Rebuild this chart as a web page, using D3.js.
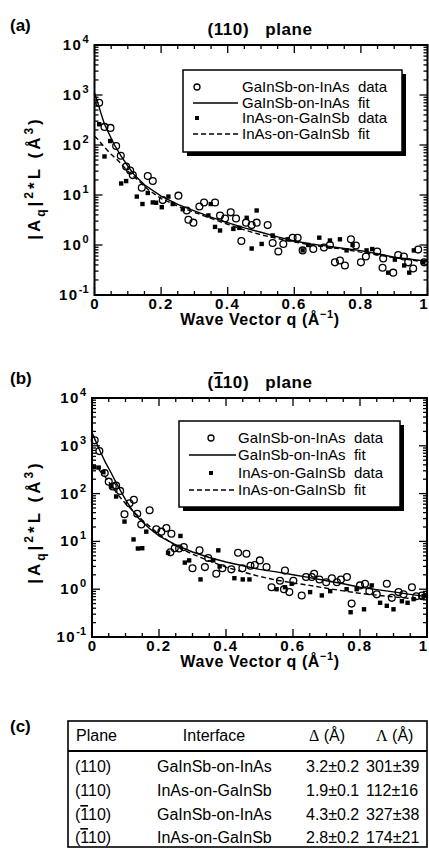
<!DOCTYPE html>
<html>
<head>
<meta charset="utf-8">
<script src="https://cdn.jsdelivr.net/npm/d3@7"></script>
<style>
  body { margin: 0; background: #fff; }
  svg { display: block; }
  text { font-family: "Liberation Sans", Arial, sans-serif; fill: #000; }
</style>
</head>
<body>
<div id="chart"></div>
<script>
// Data: [q (1/Å), |A_q|^2*L (Å^3)]
const aGaInSbData = [[0.014,700],[0.03,230],[0.048,220],[0.065,95],[0.079,61],[0.095,37],[0.107,31],[0.115,25],[0.142,14],[0.16,24],[0.175,19],[0.205,7.9],[0.252,9.7],[0.277,4.9],[0.282,3.2],[0.297,2.8],[0.315,5.9],[0.329,7.1],[0.362,7.1],[0.377,3.9],[0.392,3.4],[0.409,4.5],[0.425,3.4],[0.441,1.2],[0.455,2.8],[0.472,2.5],[0.487,2.8],[0.52,2.5],[0.535,1.1],[0.552,0.74],[0.567,1.05],[0.595,1.4],[0.61,1.4],[0.625,0.78],[0.657,0.83],[0.689,0.89],[0.707,1.0],[0.722,0.45],[0.737,0.49],[0.752,0.39],[0.77,1.3],[0.785,0.98],[0.8,0.45],[0.815,0.59],[0.849,0.74],[0.867,0.54],[0.865,0.35],[0.897,0.28],[0.912,0.63],[0.929,0.59],[0.942,0.45],[0.957,0.34],[0.972,0.81],[0.99,0.45]]
const aInAsData = [[0.014,260],[0.03,59],[0.047,120],[0.08,17],[0.095,19],[0.127,9.3],[0.144,6.6],[0.16,11],[0.175,7.1],[0.185,7],[0.202,5.7],[0.222,9.3],[0.235,6.6],[0.265,5.2],[0.342,3.9],[0.349,6.6],[0.362,2.3],[0.377,1.95],[0.417,2.1],[0.435,2.2],[0.457,3.5],[0.472,0.85],[0.487,4.9],[0.502,1.05],[0.535,1.55],[0.58,1.3],[0.625,0.78],[0.642,1.0],[0.675,1.4],[0.707,1.23],[0.737,1.3],[0.757,0.78],[0.775,1.0],[0.817,0.78],[0.834,0.83],[0.882,0.28],[0.902,0.51],[0.93,0.39],[0.945,0.28],[0.959,0.78],[0.987,0.45]]
const aGaInSbFit = [[0,1100],[0.01,700],[0.02,420],[0.03,260],[0.045,160],[0.06,100],[0.08,60],[0.1,38],[0.12,25],[0.15,16],[0.2,9.5],[0.25,6.5],[0.3,4.8],[0.35,3.6],[0.4,2.8],[0.45,2.2],[0.5,1.8],[0.55,1.45],[0.6,1.2],[0.65,1.05],[0.7,0.95],[0.75,0.85],[0.8,0.77],[0.85,0.67],[0.9,0.57],[0.95,0.52],[1,0.47]]
const aInAsFit = [[0,150],[0.01,130],[0.027,95],[0.05,65],[0.072,48],[0.1,30],[0.13,20],[0.16,13],[0.2,8.5],[0.25,6],[0.3,4.5],[0.35,3.4],[0.4,2.6],[0.45,2],[0.5,1.6],[0.55,1.35],[0.6,1.15],[0.65,1],[0.7,0.9],[0.75,0.82],[0.8,0.72],[0.85,0.63],[0.9,0.56],[0.95,0.5],[1,0.45]]

const bGaInSbData = [[0.008,1300],[0.022,775],[0.038,270],[0.05,178],[0.062,141],[0.072,148],[0.084,114],[0.097,37],[0.112,63],[0.125,74],[0.135,38],[0.147,22.5],[0.172,45],[0.192,18],[0.207,16],[0.222,19],[0.237,14.5],[0.234,5.9],[0.247,7.2],[0.26,7.1],[0.274,7.6],[0.3,2.75],[0.321,6.5],[0.337,2.9],[0.347,4.5],[0.371,2.1],[0.389,2.75],[0.416,2.6],[0.436,5.8],[0.461,5.5],[0.449,2.75],[0.473,3.1],[0.486,3.2],[0.501,4],[0.521,2.9],[0.536,1.1],[0.561,1.5],[0.573,1],[0.589,0.87],[0.576,2.45],[0.601,1.5],[0.626,0.74],[0.639,1.8],[0.656,1.8],[0.663,2.1],[0.679,1.6],[0.699,1.4],[0.716,1.7],[0.731,1.4],[0.743,1.6],[0.761,1.8],[0.775,0.5],[0.8,1.2],[0.815,1.3],[0.828,0.91],[0.85,0.78],[0.88,1.3],[0.895,0.66],[0.915,0.87],[0.93,0.78],[0.955,1.1],[0.968,0.71],[0.985,0.74]]
const bInAsData = [[0.007,355],[0.02,350],[0.034,280],[0.057,141],[0.072,87],[0.097,26],[0.124,11],[0.137,7.1],[0.15,7.2],[0.162,16],[0.227,5.8],[0.264,13],[0.277,3.6],[0.29,4],[0.324,1.6],[0.362,4],[0.377,6.5],[0.381,3],[0.425,1.7],[0.45,1.6],[0.47,1.6],[0.551,1],[0.576,1.1],[0.596,1.3],[0.651,0.87],[0.686,0.74],[0.711,0.91],[0.76,1],[0.772,0.33],[0.79,1],[0.812,0.38],[0.835,1.2],[0.86,0.52],[0.88,0.45],[0.9,0.38],[0.925,0.56],[0.942,0.52],[0.96,0.62],[0.99,0.72]]
const bGaInSbFit = [[0,1900],[0.01,1300],[0.025,750],[0.04,450],[0.055,290],[0.07,180],[0.085,115],[0.1,75],[0.12,45],[0.14,30],[0.17,19],[0.2,13],[0.25,8.5],[0.3,6],[0.35,4.6],[0.4,3.7],[0.45,3.1],[0.5,2.6],[0.55,2.3],[0.6,2],[0.65,1.75],[0.7,1.5],[0.75,1.3],[0.8,1.1],[0.85,0.98],[0.9,0.88],[0.95,0.78],[1,0.7]]
const bInAsFit = [[0,380],[0.02,320],[0.04,220],[0.06,140],[0.08,90],[0.1,62],[0.12,45],[0.15,28],[0.2,14],[0.25,8],[0.3,5.4],[0.35,3.9],[0.4,2.9],[0.45,2.3],[0.5,1.85],[0.55,1.55],[0.6,1.35],[0.65,1.2],[0.7,1.05],[0.75,0.92],[0.8,0.82],[0.85,0.75],[0.9,0.69],[0.95,0.64],[1,0.6]]

const legendLabels = ['GaInSb-on-InAs  data', 'GaInSb-on-InAs  fit', 'InAs-on-GaInSb  data', 'InAs-on-GaInSb  fit']
const xTickValues = [0, 0.2, 0.4, 0.6, 0.8, 1]
const xTickLabels = ['0', '0.2', '0.4', '0.6', '0.8', '1']

const tablePlanes = ['(110)', '(110)', '(1̄10)', '(1̄10)']
const tableInterfaces = ['GaInSb-on-InAs', 'InAs-on-GaInSb', 'GaInSb-on-InAs', 'InAs-on-GaInSb']
const tableDeltas = ['3.2±0.2', '1.9±0.1', '4.3±0.2', '2.8±0.2']
const tableLambdas = ['301±39', '112±16', '327±38', '174±21']

const width = 429
const height = 848

const svg = d3.select('#chart')
  .append('svg')
  .attr('width', width)
  .attr('height', height)

// write "(1̄10)" style text: the character before the combining bar gets an overline
function planeText(sel, str) {
  const parts = str.split('̄')
  if (parts.length === 1) { sel.text(str); return }
  const head = parts[0].slice(0, -1)
  const barred = parts[0].slice(-1)
  sel.append('tspan').text(head)
  sel.append('tspan').style('text-decoration', 'overline').text(barred)
  sel.append('tspan').text(parts[1])
}

function drawPanel(p) {
  const xScale = d3.scaleLinear().domain([0, 1]).range([p.left, p.right])
  const yScale = d3.scaleLog().domain([0.1, 1e4]).range([p.bottom, p.top])

  const g = svg.append('g')

  // panel letter and title
  g.append('text')
    .attr('x', 10).attr('y', p.top - 14)
    .attr('font-size', 17).attr('font-weight', 'bold')
    .text(p.letter)
  const title = g.append('text')
    .attr('x', 260).attr('y', p.top - 10)
    .attr('text-anchor', 'middle')
    .attr('font-size', 17).attr('font-weight', 'bold')
    .attr('letter-spacing', 0.6)
    .attr('xml:space', 'preserve')
  planeText(title, p.title)

  // ticks on all four sides, pointing inward
  const ticks = g.append('g').attr('stroke', '#000').attr('stroke-width', 1.3)
  yScale.ticks().forEach(v => {
    const major = Math.abs(Math.log10(v) - Math.round(Math.log10(v))) < 1e-9
    const len = major ? 8 : 4
    const yy = yScale(v)
    ticks.append('line').attr('x1', p.left).attr('x2', p.left + len).attr('y1', yy).attr('y2', yy)
    ticks.append('line').attr('x1', p.right).attr('x2', p.right - len).attr('y1', yy).attr('y2', yy)
  })
  d3.range(0, 1.0001, 0.05).forEach(q => {
    const major = Math.abs(q * 5 - Math.round(q * 5)) < 1e-9
    const len = major ? 8 : 4
    const xx = xScale(q)
    ticks.append('line').attr('x1', xx).attr('x2', xx).attr('y1', p.bottom).attr('y2', p.bottom - len)
    ticks.append('line').attr('x1', xx).attr('x2', xx).attr('y1', p.top).attr('y2', p.top + len)
  })

  // y tick labels 10^n
  d3.range(-1, 5).forEach(e => {
    const t = g.append('text')
      .attr('x', p.left - 6).attr('y', yScale(Math.pow(10, e)) + 5)
      .attr('text-anchor', 'end')
      .attr('font-size', 15).attr('font-weight', 'bold')
      .attr('letter-spacing', 1.5)
    t.append('tspan').text('10')
    t.append('tspan').attr('dy', -7).attr('font-size', 11).attr('letter-spacing', 0).text(e)
  })

  // x tick labels
  g.selectAll('.xlab')
    .data(xTickValues)
    .join('text')
    .attr('x', d => d === 1 ? xScale(d) - 4 : xScale(d))
    .attr('y', p.bottom + 14)
    .attr('text-anchor', 'middle')
    .attr('font-size', 15).attr('font-weight', 'bold')
    .attr('letter-spacing', d => d === 0 || d === 1 ? 0 : 1.5)
    .text((d, i) => xTickLabels[i])

  // axis titles
  const xl = g.append('text')
    .attr('x', 260).attr('y', p.bottom + 30)
    .attr('text-anchor', 'middle')
    .attr('font-size', 16).attr('font-weight', 'bold')
    .attr('letter-spacing', 0.6)
  xl.append('tspan').text('Wave Vector q (Å')
  xl.append('tspan').attr('dy', -7).attr('font-size', 11).text('−1')
  xl.append('tspan').attr('dy', 7).text(')')

  const yl = g.append('text')
    .attr('transform', `translate(${p.ylabX}, ${p.ylabY}) rotate(-90)`)
    .attr('text-anchor', 'middle')
    .attr('font-size', 17).attr('font-weight', 'bold')
    .attr('letter-spacing', 3)
  yl.append('tspan').text('|A')
  yl.append('tspan').attr('dy', 5).attr('font-size', 12).text('q')
  yl.append('tspan').attr('dy', -5).text('|')
  yl.append('tspan').attr('dy', -7).attr('font-size', 12).text('2')
  yl.append('tspan').attr('dy', 7).text('*L (Å')
  yl.append('tspan').attr('dy', -7).attr('font-size', 12).text('3')
  yl.append('tspan').attr('dy', 7).text(')')

  // fit curves
  const line = d3.line()
    .x(d => xScale(d[0]))
    .y(d => yScale(d[1]))
  g.append('path')
    .datum(p.fitA)
    .attr('d', line)
    .attr('fill', 'none').attr('stroke', '#000').attr('stroke-width', 1.4)
  g.append('path')
    .datum(p.fitB)
    .attr('d', line)
    .attr('fill', 'none').attr('stroke', '#000').attr('stroke-width', 1.4)
    .attr('stroke-dasharray', '5,3')

  // data
  g.selectAll('.sq')
    .data(p.dataB)
    .join('rect')
    .attr('x', d => xScale(d[0]) - 2.2)
    .attr('y', d => yScale(d[1]) - 2.2)
    .attr('width', 4.4).attr('height', 4.4)
    .attr('fill', '#000')
  g.selectAll('.ci')
    .data(p.dataA)
    .join('circle')
    .attr('cx', d => xScale(d[0]))
    .attr('cy', d => yScale(d[1]))
    .attr('r', 3.4)
    .attr('fill', 'none').attr('stroke', '#000').attr('stroke-width', 1.3)

  // frame
  g.append('rect')
    .attr('x', p.left).attr('y', p.top)
    .attr('width', p.right - p.left).attr('height', p.bottom - p.top)
    .attr('fill', 'none').attr('stroke', '#000').attr('stroke-width', 2)

  // legend with drop shadow
  const L = p.legend
  g.append('rect')
    .attr('x', L.x0 + 4).attr('y', L.y0 + 4)
    .attr('width', L.x1 - L.x0).attr('height', L.y1 - L.y0)
    .attr('fill', '#000')
  g.append('rect')
    .attr('x', L.x0).attr('y', L.y0)
    .attr('width', L.x1 - L.x0).attr('height', L.y1 - L.y0)
    .attr('fill', '#fff').attr('stroke', '#000').attr('stroke-width', 1.5)
  L.rows.forEach((ry, i) => {
    if (i === 0) {
      g.append('circle').attr('cx', L.mark).attr('cy', ry).attr('r', 3)
        .attr('fill', 'none').attr('stroke', '#000').attr('stroke-width', 1.3)
    } else if (i === 2) {
      g.append('rect').attr('x', L.mark - 2).attr('y', ry - 2).attr('width', 4).attr('height', 4).attr('fill', '#000')
    } else {
      g.append('line').attr('x1', L.lx0).attr('x2', L.lx1).attr('y1', ry).attr('y2', ry)
        .attr('stroke', '#000').attr('stroke-width', 1.3)
        .attr('stroke-dasharray', i === 3 ? '5,3' : null)
    }
    g.append('text')
      .attr('x', L.tx).attr('y', ry + 5)
      .attr('font-size', 15)
      .attr('xml:space', 'preserve')
      .text(legendLabels[i])
  })
}

drawPanel({
  letter: '(a)', title: '(110)   plane',
  left: 94.5, right: 427.5, top: 45, bottom: 295,
  ylabX: 40, ylabY: 178,
  dataA: aGaInSbData, dataB: aInAsData, fitA: aGaInSbFit, fitB: aInAsFit,
  legend: { x0: 183, x1: 402, y0: 70, y1: 152, rows: [87, 103, 118, 134], mark: 197, lx0: 193, lx1: 238, tx: 242 }
})

drawPanel({
  letter: '(b)', title: '(1̄10)   plane',
  left: 92, right: 427, top: 398, bottom: 637,
  ylabX: 40, ylabY: 522,
  dataA: bGaInSbData, dataB: bInAsData, fitA: bGaInSbFit, fitB: bInAsFit,
  legend: { x0: 179, x1: 400, y0: 421, y1: 507, rows: [438, 455, 473, 490], mark: 211, lx0: 189, lx1: 236, tx: 238 }
})

// (c) table
const tbl = svg.append('g')
tbl.append('text')
  .attr('x', 10).attr('y', 732)
  .attr('font-size', 17).attr('font-weight', 'bold')
  .text('(c)')
tbl.append('rect')
  .attr('x', 68).attr('y', 721).attr('width', 359).attr('height', 126)
  .attr('fill', 'none').attr('stroke', '#000').attr('stroke-width', 1.6)
tbl.append('line')
  .attr('x1', 68).attr('x2', 427).attr('y1', 751).attr('y2', 751)
  .attr('stroke', '#000').attr('stroke-width', 2)

const fs = 16
const hdrY = 741
tbl.append('text').attr('x', 76).attr('y', hdrY).attr('font-size', fs).text('Plane')
tbl.append('text').attr('x', 214).attr('y', hdrY).attr('font-size', fs).attr('text-anchor', 'middle').text('Interface')
const dh = tbl.append('text').attr('x', 309).attr('y', hdrY).attr('font-size', fs)
dh.append('tspan').attr('font-family', '"Liberation Serif", serif').text('Δ')
dh.append('tspan').text(' (Å)')
const lh = tbl.append('text').attr('x', 376).attr('y', hdrY).attr('font-size', fs)
lh.append('tspan').attr('font-family', '"Liberation Serif", serif').text('Λ')
lh.append('tspan').text(' (Å)')

const rowY = [772, 796, 820, 843]
rowY.forEach((ry, i) => {
  planeText(tbl.append('text').attr('x', 75).attr('y', ry).attr('font-size', fs), tablePlanes[i])
  tbl.append('text').attr('x', 157).attr('y', ry).attr('font-size', fs).text(tableInterfaces[i])
  tbl.append('text').attr('x', 306).attr('y', ry).attr('font-size', fs).text(tableDeltas[i])
  tbl.append('text').attr('x', 366).attr('y', ry).attr('font-size', fs).text(tableLambdas[i])
})
</script>
</body>
</html>
